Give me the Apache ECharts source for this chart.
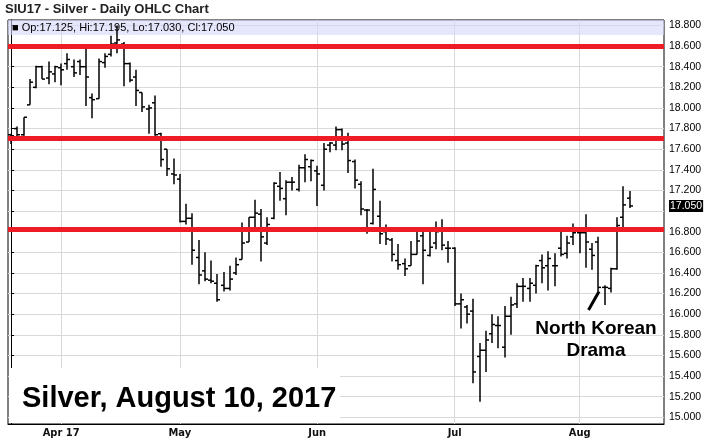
<!DOCTYPE html>
<html><head><meta charset="utf-8">
<script src="https://cdn.jsdelivr.net/npm/echarts@6/dist/echarts.min.js"></script>
<style>html,body{margin:0;padding:0;background:#fff}#c{width:709px;height:440px}</style>
</head><body><div id="c"></div>
<script>
const dates = [
'2017-03-22','2017-03-23','2017-03-24','2017-03-27','2017-03-28','2017-03-29','2017-03-30','2017-03-31',
'2017-04-03','2017-04-04','2017-04-05','2017-04-06','2017-04-07','2017-04-10','2017-04-11','2017-04-12','2017-04-13','2017-04-17','2017-04-18','2017-04-19','2017-04-20','2017-04-21','2017-04-24','2017-04-25','2017-04-26','2017-04-27','2017-04-28',
'2017-05-01','2017-05-02','2017-05-03','2017-05-04','2017-05-05','2017-05-08','2017-05-09','2017-05-10','2017-05-11','2017-05-12','2017-05-15','2017-05-16','2017-05-17','2017-05-18','2017-05-19','2017-05-22','2017-05-23','2017-05-24','2017-05-25','2017-05-26','2017-05-30','2017-05-31',
'2017-06-01','2017-06-02','2017-06-05','2017-06-06','2017-06-07','2017-06-08','2017-06-09','2017-06-12','2017-06-13','2017-06-14','2017-06-15','2017-06-16','2017-06-19','2017-06-20','2017-06-21','2017-06-22','2017-06-23','2017-06-26','2017-06-27','2017-06-28','2017-06-29','2017-06-30',
'2017-07-03','2017-07-05','2017-07-06','2017-07-07','2017-07-10','2017-07-11','2017-07-12','2017-07-13','2017-07-14','2017-07-17','2017-07-18','2017-07-19','2017-07-20','2017-07-21','2017-07-24','2017-07-25','2017-07-26','2017-07-27','2017-07-28','2017-07-31',
'2017-08-01','2017-08-02','2017-08-03','2017-08-04','2017-08-07','2017-08-08','2017-08-09','2017-08-10','2017-08-11'
];
const opens = [
17.74,17.80,17.74,18.03,18.20,18.40,18.29,18.33,18.39,18.43,
18.40,18.45,18.40,18.10,18.09,18.44,18.52,18.63,18.62,18.43,
18.30,18.15,17.99,18.05,17.75,17.60,17.36,17.31,16.90,16.93,
16.55,16.42,16.33,16.30,16.28,16.25,16.40,16.53,16.70,16.94,
16.97,16.69,16.93,17.24,17.12,17.28,17.21,17.42,17.43,17.39,
17.25,17.64,17.64,17.79,17.66,17.48,17.26,17.01,16.88,16.95,
16.80,16.72,16.52,16.49,16.47,16.58,16.76,16.57,16.69,16.81,
16.64,16.64,16.10,16.07,16.03,15.59,15.65,15.81,15.89,15.68,
15.98,16.10,16.27,16.25,16.28,16.52,16.47,16.47,16.64,16.59,
16.75,16.79,16.79,16.63,16.70,16.26,16.25,16.44,16.94,17.125
];
const highs = [
17.75,17.82,17.91,18.28,18.41,18.41,18.45,18.41,18.43,18.53,
18.47,18.47,18.59,18.14,18.48,18.53,18.70,18.80,18.64,18.44,
18.37,18.15,18.03,18.12,17.76,17.60,17.51,17.36,17.07,16.98,
16.72,16.60,16.52,16.39,16.41,16.47,16.55,16.89,16.94,17.11,
17.02,16.94,17.28,17.38,17.30,17.33,17.45,17.55,17.50,17.44,
17.66,17.67,17.82,17.80,17.76,17.50,17.29,17.02,17.41,17.10,
16.87,16.74,16.68,16.54,16.71,16.80,16.80,16.80,16.90,16.92,
16.71,16.65,16.20,16.09,16.15,15.72,15.84,16.00,15.98,16.08,
16.17,16.30,16.35,16.35,16.48,16.58,16.61,16.59,16.80,16.76,
16.88,16.81,16.97,16.69,16.75,16.28,16.45,16.94,17.24,17.195
];
const lows = [
17.65,17.72,17.73,18.03,18.19,18.28,18.23,18.25,18.22,18.37,
18.30,18.32,18.02,17.90,18.09,18.39,18.50,18.53,18.21,18.25,
18.02,17.96,17.75,17.73,17.43,17.34,17.26,16.89,16.87,16.48,
16.29,16.32,16.30,16.12,16.22,16.23,16.38,16.53,16.70,16.82,
16.51,16.67,16.92,17.10,16.96,17.20,17.19,17.28,17.29,17.05,
17.20,17.57,17.59,17.59,17.37,17.22,16.96,16.78,16.87,16.68,
16.67,16.51,16.43,16.37,16.47,16.58,16.29,16.56,16.63,16.62,
16.50,16.08,15.86,15.91,15.33,15.15,15.44,15.72,15.67,15.58,
15.80,16.06,16.12,16.12,16.20,16.30,16.23,16.27,16.56,16.54,
16.67,16.59,16.45,16.43,16.22,16.09,16.21,16.43,16.84,17.03
];
const closes = [
17.73,17.74,17.91,18.25,18.40,18.28,18.35,18.40,18.37,18.47,
18.34,18.40,18.30,18.08,18.45,18.50,18.62,18.66,18.43,18.27,
18.17,18.01,18.00,17.74,17.50,17.41,17.35,16.90,16.93,16.62,
16.38,16.34,16.32,16.14,16.25,16.34,16.48,16.69,16.94,16.98,
16.75,16.87,17.27,17.22,17.28,17.28,17.42,17.50,17.49,17.36,
17.60,17.66,17.79,17.65,17.49,17.30,17.02,17.01,17.21,16.78,
16.73,16.58,16.48,16.44,16.58,16.71,16.62,16.65,16.80,16.67,
16.64,16.10,16.14,16.00,15.44,15.65,15.75,15.90,15.89,15.98,
16.09,16.27,16.27,16.30,16.47,16.45,16.54,16.47,16.58,16.69,
16.79,16.79,16.70,16.57,16.26,16.26,16.44,16.86,17.06,17.05
];
const padSlots = 5;
const monthTickDates = ['2017-04-03','2017-05-01','2017-06-01','2017-07-03','2017-08-01'];
const monthTickLabels = ['Apr 17','May','Jun','Jul','Aug'];
const yTicks = [15.0,15.2,15.4,15.6,15.8,16.0,16.2,16.4,16.6,16.8,17.0,17.2,17.4,17.6,17.8,18.0,18.2,18.4,18.6,18.8];
const yHiddenLabels = [17.0];
const supportLevels = [18.6, 17.71, 16.82];
const lastBar = {open:17.125, high:17.195, low:17.030, close:17.050};
const yMin = 14.935, yMax = 18.853;
const bandBottom = 18.708;

const monthIdx = monthTickDates.map(d => dates.indexOf(d));
const ohlc = dates.map((d, i) => [i, opens[i], highs[i], lows[i], closes[i]]);

const chart = echarts.init(document.getElementById('c'), null, {renderer:'canvas'});
const FONT = '"Liberation Sans", Arial, sans-serif';
chart.setOption({
  animation: false,
  backgroundColor: '#fff',
  grid: {left: 8, right: 45, top: 20, bottom: 16, show: true, borderColor: '#000', borderWidth: 1, backgroundColor: 'transparent'},
  xAxis: {
    type: 'value', min: -0.5, max: dates.length + padSlots - 0.5,
    axisLine: {show: true, lineStyle: {color: '#000', width: 1}},
    axisTick: {show: false, customValues: monthIdx},
    axisLabel: {customValues: monthIdx, margin: 4, fontSize: 11, fontWeight: 'bold',
      fontFamily: '"Liberation Sans Narrow", "Arial Narrow", "DejaVu Sans Condensed", sans-serif', color: '#111',
      formatter: v => monthTickLabels[monthIdx.indexOf(v)] || ''},
    splitLine: {show: true, lineStyle: {color: '#d9d9d9', width: 1}}
  },
  yAxis: {
    type: 'value', position: 'right', min: yMin, max: yMax, scale: true,
    axisLine: {show: true, lineStyle: {color: '#000', width: 1}},
    axisTick: {show: true, length: 3, customValues: yTicks, lineStyle: {color: '#000'}},
    axisLabel: {customValues: yTicks.filter(v => !yHiddenLabels.includes(v)), margin: 5, fontSize: 10.5, fontFamily: FONT, color: '#000',
      formatter: v => v.toFixed(3)},
    splitLine: {show: true, lineStyle: {color: '#d9d9d9', width: 1}}
  },
  series: [
    {
      type: 'line', data: [], z: 1, silent: true,
      markArea: {silent: true, itemStyle: {color: 'rgba(214,214,250,0.6)'}, data: [[{yAxis: bandBottom}, {yAxis: yMax}]]}
    },
    {
      type: 'custom', z: 3, silent: true,
      data: ohlc,
      encode: {x: 0, y: [1, 2, 3, 4]},
      renderItem: function (params, api) {
        const i = api.value(0);
        const o = api.coord([i, api.value(1)]);
        const h = api.coord([i, api.value(2)]);
        const l = api.coord([i, api.value(3)]);
        const c = api.coord([i, api.value(4)]);
        const x = Math.round(h[0]);
        const t = 3;
        const st = {stroke: '#000', lineWidth: 1.5};
        return {type: 'group', children: [
          {type: 'line', shape: {x1: x, y1: h[1], x2: x, y2: l[1]}, style: st},
          {type: 'line', shape: {x1: x - t, y1: o[1], x2: x, y2: o[1]}, style: st},
          {type: 'line', shape: {x1: x, y1: c[1], x2: x + t, y2: c[1]}, style: st}
        ]};
      }
    },
    {
      type: 'line', data: [], z: 5, silent: true,
      markLine: {
        silent: true, symbol: ['none', 'none'], animation: false,
        data: supportLevels.map(v => ({yAxis: v, lineStyle: {color: '#ee1c25', width: 5, type: 'solid', cap: 'butt'}, label: {show: false}}))
      }
    },
    {
      type: 'line', data: [], z: 6, silent: true,
      markLine: {
        silent: true, symbol: ['none', 'none'], animation: false,
        lineStyle: {color: 'rgba(0,0,0,0)', width: 1, type: 'solid'},
        label: {show: true, position: 'end', distance: 5, formatter: lastBar.close.toFixed(3), backgroundColor: '#000', color: '#fff',
          fontSize: 10.5, fontFamily: FONT, padding: [1, 1, 0, 1]},
        data: [{yAxis: lastBar.close}]
      }
    }
  ],
  graphic: [
    {type: 'text', left: 5, top: 3, z: 100, style: {text: 'SIU17 - Silver - Daily OHLC Chart', fontSize: 13, fontWeight: 'bold', fontFamily: FONT, fill: '#222'}},
    {type: 'text', left: 12, top: 22, z: 100, style: {text: '\u25A0 Op:' + lastBar.open.toFixed(3) + ', Hi:' + lastBar.high.toFixed(3) + ', Lo:' + lastBar.low.toFixed(3) + ', Cl:' + lastBar.close.toFixed(3), fontSize: 11, fontFamily: FONT, fill: '#000'}},
    {type: 'rect', z: 1, shape: {x: 9, y: 368, width: 331, height: 55}, style: {fill: '#fff'}},
    {type: 'text', z: 100, x: 22, y: 399, style: {text: 'Silver, August 10, 2017', fontSize: 29, fontWeight: 'bold', fontFamily: FONT, fill: '#000', textVerticalAlign: 'middle'}},
    {type: 'text', z: 100, x: 596, y: 329, style: {text: 'North Korean', fontSize: 19, fontWeight: 'bold', fontFamily: FONT, fill: '#000', textAlign: 'center', textVerticalAlign: 'middle'}},
    {type: 'text', z: 100, x: 596, y: 351, style: {text: 'Drama', fontSize: 19, fontWeight: 'bold', fontFamily: FONT, fill: '#000', textAlign: 'center', textVerticalAlign: 'middle'}},
    {type: 'line', z: 100, shape: {x1: 588.5, y1: 310, x2: 599, y2: 291.5}, style: {stroke: '#000', lineWidth: 3}}
  ]
});
</script></body></html>
